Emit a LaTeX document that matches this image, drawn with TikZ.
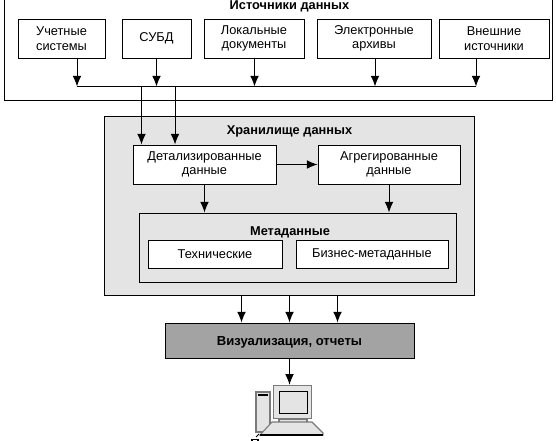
\documentclass[tikz,border=0pt]{standalone}
\usepackage{fontspec}
\setmainfont{Liberation Sans}
\usetikzlibrary{arrows.meta, positioning}
\definecolor{panelgray}{HTML}{E4E4E4}
\definecolor{vizgray}{HTML}{A3A3A3}
\definecolor{framegray}{HTML}{7A7A7A}
\tikzset{box/.style={rectangle,draw,fill=white,align=center,inner sep=0pt,line width=.7pt,font=\fontsize{9.6}{11}\selectfont},
wh/.style 2 args={minimum width=#1*.75pt,minimum height=#2*.75pt},
panel/.style={box,fill=panelgray},
head/.style={inner sep=0pt,anchor=base,font=\fontsize{9.6}{11}\selectfont\bfseries},
line/.style={line width=.7pt,-{Latex[length=8pt,width=6.5pt]}},
bus/.style={line width=.7pt},
part/.style={draw=framegray,fill=panelgray,line width=1pt}}

\begin{document}
\begin{tikzpicture}[x=.75pt,y=-.75pt]
\useasboundingbox (0,0) rectangle (556,441);
\clip (0,0) rectangle (556,441);
% sources
\node[box, wh={548}{120}] (src) at (278.5,40) {};
\node[head] (srchead) at (289.5,9.8) {Источники данных};
\node[box, wh={87}{39}] (uchet) at (61.5,38.5) {\raisebox{-.7pt}{Учетные}\\\raisebox{-.7pt}{системы}};
\node[box, wh={69}{39}] (subd) at (156.5,38.5) {СУБД};
\node[box, wh={100}{39}] (lokal) at (254,38.5) {Локальные\\документы};
\node[box, wh={114}{39}] (arhiv) at (374,38.5) {Электронные\\архивы};
\node[box, wh={110}{39}] (vnesh) at (494,38.5) {\raisebox{-.7pt}{Внешние}\\\raisebox{-.7pt}{источники}};
\coordinate (b1) at (77,86.5);
\coordinate (b2) at (156.5,86.5);
\coordinate (b3) at (254.5,86.5);
\coordinate (b4) at (375,86.5);
\coordinate (b5) at (476,86.5);
\coordinate (b6) at (141.5,86.5);
\coordinate (b7) at (175,86.5);
% storage
\node[panel, wh={369.5}{179}] (hran) at (289.25,205.5) {};
\node[head] (hranhead) at (289.5,134.5) {Хранилище данных};
\node[box, wh={143}{39}] (detal) at (204.5,164.5) {\raisebox{-.7pt}{Детализированные}\\\raisebox{-.7pt}{данные}};
\node[box, wh={142}{39}] (agreg) at (389,164.5) {\raisebox{-.7pt}{Агрегированные}\\\raisebox{-.7pt}{данные}};
\node[panel, wh={317}{69}] (meta) at (297.5,247.5) {};
\node[head] (metahead) at (290,235.5) {Метаданные};
\node[box, wh={134}{28}] (tehn) at (215,254) {Технические};
\node[box, wh={152}{28}] (biznes) at (372,254) {Бизнес-метаданные};
\node[box, fill=vizgray, wh={249}{35}, font=\fontsize{9.8}{11}\selectfont\bfseries, text height=7pt, text depth=0pt] (viz) at (289.5,340.5) {Визуализация, отчеты};
% computer
\node[part, inner sep=0pt, wh={38}{33}] (monitor) at (292.5,402) {};
\draw[fill=panelgray, line width=.6pt] (279,391) rectangle (307,413);
\draw[part] (279,419) rectangle (307,424);
\draw[part] (256,392) rectangle (270,432);
\draw[line width=1.5pt] (258,394.5) -- (268,394.5);
\draw[draw=framegray,fill=panelgray,line width=.8pt] (272,422) -- (312,422) -- (323,433) -- (323,435) -- (260,435) -- cycle;
\draw[line width=.8pt] (260,435) -- (323,435);
\draw[line width=.7pt] (259,434) -- (256,437);
\draw[line width=.8pt] (252,441) -- (252,439.5) -- (258,439.5) -- (258,441);
% arrows
\draw[line] (b1 |- uchet.south) -- (b1);
\draw[line] (subd.south) -- (b2);
\draw[line] (b3 |- lokal.south) -- (b3);
\draw[line] (b4 |- arhiv.south) -- (b4);
\draw[line] (b5 |- vnesh.south) -- (b5);
\draw[bus] (b1) -- (b5);
\draw[line] (b6) -- (b6 |- detal.north);
\draw[line] (b7) -- (b7 |- detal.north);
\draw[line] (detal) -- (agreg);
\draw[line] (detal.south) -- (detal.south |- meta.north);
\draw[line] (agreg.south) -- (agreg.south |- meta.north);
\foreach \dx in {-48,0,48}
  \draw[line] ([xshift=\dx*.75pt]viz.north |- hran.south) -- ([xshift=\dx*.75pt]viz.north);
\draw[line] (viz.south) -- (viz.south |- monitor.north);
\end{tikzpicture}
\end{document}
